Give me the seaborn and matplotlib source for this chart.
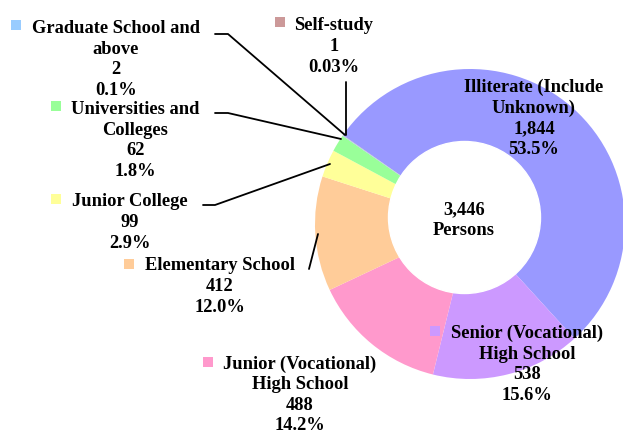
import matplotlib
matplotlib.use('Agg')
import matplotlib.pyplot as plt
import seaborn as sns
from matplotlib.patches import Circle

# data
categories = ['Illiterate (Include\nUnknown)', 'Senior (Vocational)\nHigh School',
              'Junior (Vocational)\nHigh School', 'Elementary School', 'Junior College',
              'Universities and\nColleges', 'Graduate School and\nabove', 'Self-study']
persons = [1844, 538, 488, 412, 99, 62, 2, 1]
shares = ['53.5%', '15.6%', '14.2%', '12.0%', '2.9%', '1.8%', '0.1%', '0.03%']
total_label = '3,446\nPersons'
colors = sns.color_palette(['#9999FF', '#CC99FF', '#FF99CC', '#FFCC99',
                            '#FFFF99', '#99FF99', '#99CCFF', '#CC9999'])

sns.set_style('white')
plt.rcParams['font.family'] = ['Liberation Serif', 'DejaVu Serif']

W, H = 623, 435
fig = plt.figure(figsize=(W / 100, H / 100), dpi=100)
ax = fig.add_axes([0, 0, 1, 1])

# donut (pixel coordinates, y up)
ax.pie(persons, colors=colors, startangle=145, counterclock=False,
       radius=155, center=(470, H - 225), wedgeprops=dict(linewidth=0))
ax.add_patch(Circle((464.5, H - 218.5), 76, color='white', zorder=3))
ax.set_xlim(0, W)
ax.set_ylim(0, H)
ax.set_aspect('equal')
ax.axis('off')

# label block centres and marker positions (image pixels)
text_pos = [(534, 118.5), (527, 364.5), (300, 395), (219.5, 286.5),
            (129.5, 222.5), (135.5, 140.5), (116, 59.5), (334, 46.5)]
marker_pos = [(452, 87), (435, 332), (208, 363), (129, 265),
              (56, 200), (56, 107), (16, 26), (280, 23)]

for cat, n, pct, col, (tx, ty), (mx, my) in zip(categories, persons, shares, colors,
                                                 text_pos, marker_pos):
    ax.text(tx, H - ty, f'{cat}\n{n:,}\n{pct}', ha='center', va='center',
            multialignment='center', fontsize=13.3, fontweight='bold',
            linespacing=1.27, color='black', zorder=5)
    ax.scatter([mx], [H - my], marker='s', s=52, color=col, linewidths=0, zorder=5)

ax.text(464, H - 220, total_label, ha='center', va='center', fontsize=13.3,
        fontweight='bold', linespacing=1.27, color='black', zorder=5)

# leader lines
leaders = [
    [(215, 35), (228, 35), (345, 136)],
    [(346, 83), (346, 136)],
    [(215, 114), (228, 114), (341, 140)],
    [(203, 206), (215, 206), (330, 165)],
    [(309, 270), (318, 235)],
]
for pts in leaders:
    xs = [p[0] for p in pts]
    ys = [H - p[1] for p in pts]
    ax.plot(xs, ys, color='black', linewidth=1.3, zorder=4)

fig.savefig('out.png', dpi=100)
